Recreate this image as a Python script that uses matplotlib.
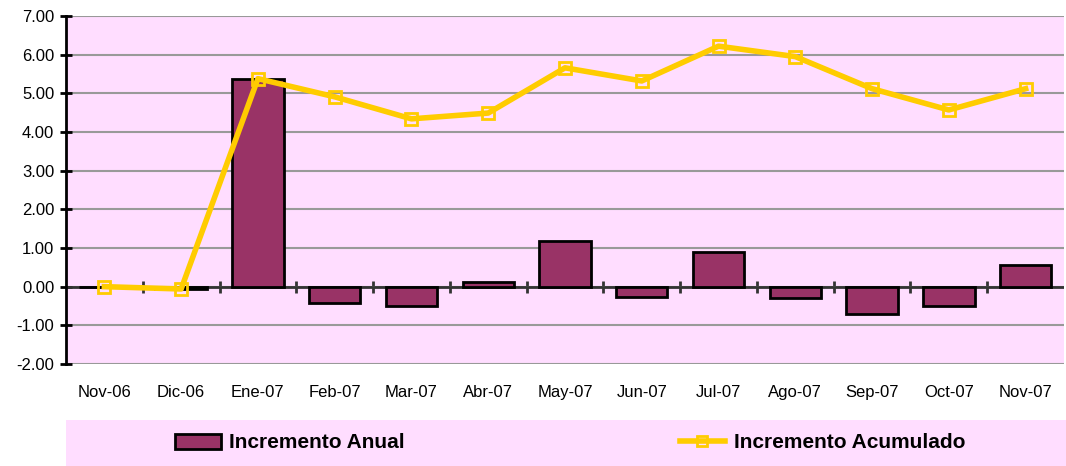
import matplotlib.pyplot as plt
from matplotlib.patches import Rectangle
from matplotlib.lines import Line2D

meses = ['Nov-06', 'Dic-06', 'Ene-07', 'Feb-07', 'Mar-07', 'Abr-07', 'May-07',
         'Jun-07', 'Jul-07', 'Ago-07', 'Sep-07', 'Oct-07', 'Nov-07']
incremento_anual = [0.0, -0.05, 5.36, -0.42, -0.50, 0.12, 1.17,
                    -0.28, 0.89, -0.29, -0.71, -0.49, 0.55]
incremento_acumulado = [0.0, -0.06, 5.38, 4.91, 4.34, 4.49, 5.66,
                        5.32, 6.22, 5.95, 5.12, 4.57, 5.12]
y_ticks = [-2, -1, 0, 1, 2, 3, 4, 5, 6, 7]

plt.rcParams['font.family'] = ['Liberation Sans', 'DejaVu Sans']

fig = plt.figure(figsize=(10.66, 4.66), dpi=100)
ax = fig.add_axes([66 / 1066, 1 - 364 / 466, 998 / 1066, 348 / 466])
ax.set_facecolor('#FFDDFF')

x = list(range(len(meses)))
ax.bar(x, incremento_anual, width=0.67, color='#993366', edgecolor='black',
       linewidth=2, zorder=3)
ax.plot(x, incremento_acumulado, color='#FFCC00', linewidth=4, marker='s',
        markersize=8, markerfacecolor='none', markeredgecolor='#FFCC00',
        markeredgewidth=2, zorder=4)

ax.set_xlim(-0.5, len(meses) - 0.5)
ax.set_ylim(-2, 7)
ax.set_yticks(y_ticks)
ax.set_yticklabels([f'{v:.2f}' for v in y_ticks], fontsize=12)
ax.yaxis.grid(True, color='#999999', linewidth=1.5, zorder=1)
ax.set_axisbelow(True)

ax.set_xticks(x)
ax.set_xticklabels(meses, fontsize=12)
ax.tick_params(axis='x', length=0, pad=15)
ax.tick_params(axis='y', direction='inout', length=9, width=2, pad=4)

for side in ['top', 'right', 'bottom']:
    ax.spines[side].set_visible(False)
ax.spines['left'].set_linewidth(2)

# eje horizontal en cero con marcas entre categorias
ax.axhline(0, color='#333333', linewidth=2, zorder=2)
sec = ax.secondary_xaxis(2 / 9)
sec.spines['bottom'].set_visible(False)
sec.set_xticks([i + 0.5 for i in range(len(meses) - 1)])
sec.set_xticklabels([])
sec.tick_params(direction='inout', length=9, width=2, color='#333333')

# fondo de la leyenda
fig.patches.append(Rectangle((66 / 1066, 0), 1000 / 1066, 46 / 466,
                             transform=fig.transFigure, facecolor='#FFDDFF',
                             edgecolor='none', zorder=0))
handles = [Rectangle((0, 0), 1, 1, facecolor='#993366', edgecolor='black', linewidth=2),
           Line2D([], [], color='#FFCC00', linewidth=4, marker='s', markersize=7,
                  markerfacecolor='none', markeredgecolor='#FFCC00', markeredgewidth=2)]
fig.legend(handles, ['Incremento Anual', 'Incremento Acumulado'], ncol=2,
           loc='center', bbox_to_anchor=(570 / 1066, 23 / 466), frameon=False,
           prop={'size': 15, 'weight': 'bold'}, columnspacing=13.2,
           handlelength=2.2, handletextpad=0.4)

fig.savefig('out.png', dpi=100)
